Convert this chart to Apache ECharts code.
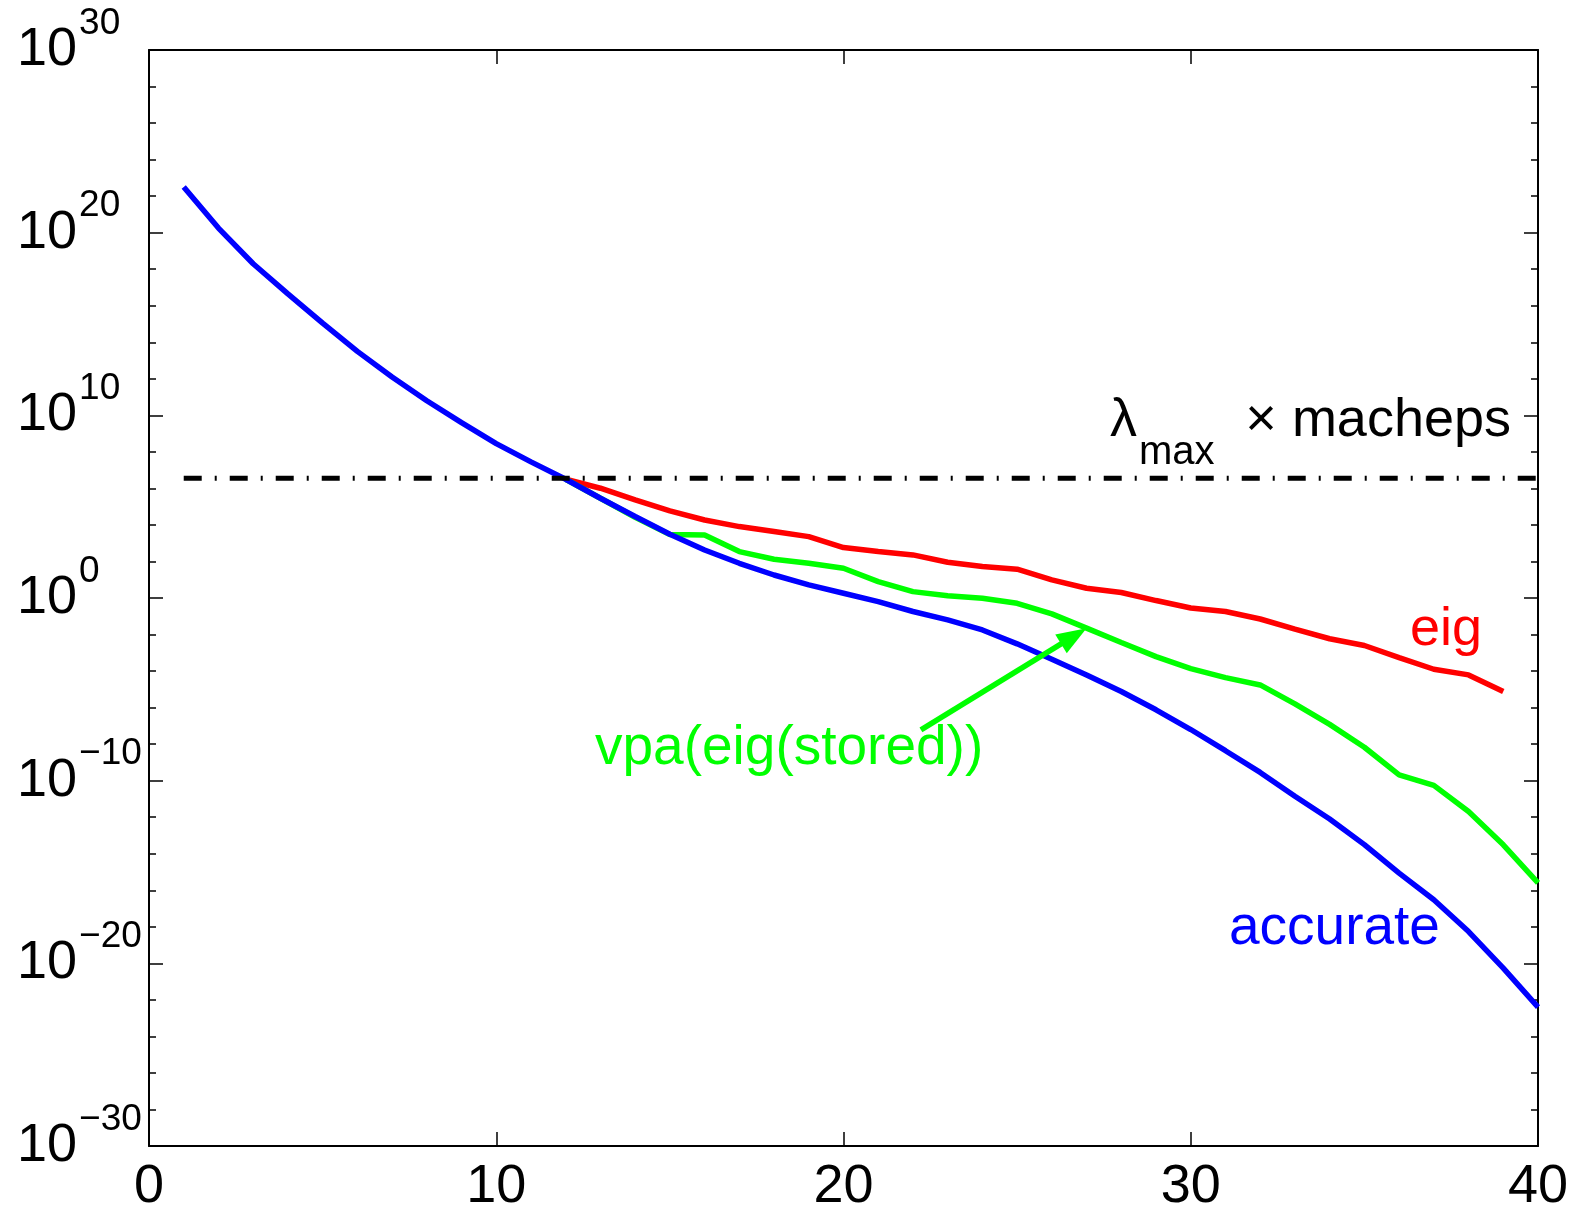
<!DOCTYPE html>
<html>
<head>
<meta charset="utf-8">
<script src="https://cdn.jsdelivr.net/npm/echarts@6.0.0/dist/echarts.min.js"></script>
<style>
  html, body {margin: 0; padding: 0; background: #fff;}
  #chart {width: 1577px; height: 1215px;}
</style>
</head>
<body>
<div id="chart"></div>
<script>
// exponents (log10), x = 1, 2, ...
const accurate = [
  22.5, 20.25, 18.3, 16.65, 15.05, 13.5, 12.1, 10.8, 9.6, 8.45,
  7.45, 6.5, 5.46, 4.46, 3.49, 2.63, 1.9, 1.26, 0.72, 0.26,
  -0.2, -0.74, -1.2, -1.75, -2.51, -3.35, -4.21, -5.12, -6.12, -7.2,
  -8.36, -9.55, -10.85, -12.1, -13.5, -15.06, -16.52, -18.26, -20.26, -22.4
];
// eig and vpa start where they leave the accurate curve
const splitStart = 12;
const eig = [
  6.5, 6.01, 5.37, 4.77, 4.27, 3.91, 3.64, 3.36, 2.76, 2.54,
  2.36, 1.96, 1.72, 1.575, 0.99, 0.535, 0.3, -0.14, -0.55, -0.74,
  -1.15, -1.7, -2.23, -2.6, -3.26, -3.9, -4.21, -5.12
];
const vpaStored = [
  6.5, 5.46, 4.42, 3.47, 3.45, 2.54, 2.12, 1.9, 1.63, 0.9,
  0.35, 0.12, -0.01, -0.29, -0.87, -1.65, -2.44, -3.21, -3.87, -4.36,
  -4.76, -5.8, -6.92, -8.17, -9.68, -10.26, -11.69, -13.51, -15.6
];
const machepsLevel = 6.55;
const machepsRange = [1, 40];
const arrowFrom = [22.23, -7.22];
const arrowTo = [27, -1.65];
const xTicks = [0, 40, 10];      // min, max, step
const yTicks = [-30, 30, 10];    // exponents

const FONT = '"Liberation Sans", Arial, Helvetica, sans-serif';
const LW = 5.5;

const toPairs = (arr, start) => arr.map((v, i) => [start + i, v]);

const expLabel = v => {
  const e = v < 0 ? '\u2212' + (-v) : String(v);
  return '{b|10}{s|' + e + '}';
};

const chart = echarts.init(document.getElementById('chart'), null, {renderer: 'canvas'});

const axisLine = {show: true, onZero: false, lineStyle: {color: '#000', width: 2}};
const tick = {show: true, inside: true, length: 14, lineStyle: {color: '#000', width: 1.5}};
const minor = {show: true, splitNumber: 5, length: 7, lineStyle: {color: '#000', width: 1.5}};

chart.setOption({
  animation: false,
  backgroundColor: '#fff',
  grid: {left: 149, top: 50, right: 39, bottom: 69, containLabel: false},
  xAxis: [{
    type: 'value',
    position: 'bottom',
    min: xTicks[0], max: xTicks[1], interval: xTicks[2],
    axisLine: axisLine,
    axisTick: tick,
    axisLabel: {fontFamily: FONT, fontSize: 54, color: '#000', margin: 14},
    splitLine: {show: false}
  }, {
    type: 'value',
    position: 'top',
    min: xTicks[0], max: xTicks[1], interval: xTicks[2],
    axisLine: axisLine,
    axisTick: tick,
    axisLabel: {show: false},
    splitLine: {show: false}
  }],
  yAxis: [{
    type: 'value',
    position: 'left',
    min: yTicks[0], max: yTicks[1], interval: yTicks[2],
    axisLine: axisLine,
    axisTick: tick,
    minorTick: minor,
    axisLabel: {
      align: 'left',
      margin: 132,
      formatter: expLabel,
      rich: {
        b: {fontFamily: FONT, fontSize: 54, lineHeight: 90, color: '#000'},
        s: {fontFamily: FONT, fontSize: 37, lineHeight: 37, padding: [0, 0, 53, 2], color: '#000'}
      }
    },
    splitLine: {show: false}
  }, {
    type: 'value',
    position: 'right',
    min: yTicks[0], max: yTicks[1], interval: yTicks[2],
    axisLine: axisLine,
    axisTick: tick,
    minorTick: minor,
    axisLabel: {show: false},
    splitLine: {show: false}
  }],
  series: [{
    name: 'eig',
    type: 'line',
    data: toPairs(eig, splitStart),
    showSymbol: false,
    lineStyle: {color: '#ff0000', width: LW},
    z: 2
  }, {
    name: 'vpa(eig(stored))',
    type: 'line',
    data: toPairs(vpaStored, splitStart),
    showSymbol: false,
    lineStyle: {color: '#00ff00', width: LW},
    z: 3
  }, {
    name: 'accurate',
    type: 'line',
    data: toPairs(accurate, 1),
    showSymbol: false,
    lineStyle: {color: '#0000ff', width: LW},
    z: 4
  }, {
    name: 'macheps',
    type: 'line',
    data: machepsRange.map(x => [x, machepsLevel]),
    showSymbol: false,
    lineStyle: {color: '#000', width: 5, type: [18, 13, 2, 13], cap: 'butt'},
    z: 5
  }]
});

// arrow from the label to the vpa curve, placed through the axes' scales
const p0 = chart.convertToPixel({gridIndex: 0}, arrowFrom);
const p1 = chart.convertToPixel({gridIndex: 0}, arrowTo);
const dx = p1[0] - p0[0], dy = p1[1] - p0[1];
const len = Math.sqrt(dx * dx + dy * dy);
const ux = dx / len, uy = dy / len;
const headLen = 30, headHalf = 11;
const bx = p1[0] - ux * headLen, by = p1[1] - uy * headLen;

chart.setOption({
  graphic: [
    {type: 'line', z: 10,
      shape: {x1: p0[0], y1: p0[1], x2: bx + ux * 2, y2: by + uy * 2},
      style: {stroke: '#00ff00', lineWidth: LW}},
    {type: 'polygon', z: 10,
      shape: {points: [[p1[0], p1[1]], [bx - uy * headHalf, by + ux * headHalf], [bx + uy * headHalf, by - ux * headHalf]]},
      style: {fill: '#00ff00'}},
    {type: 'text', x: 1110, y: 421, z: 10,
      style: {text: '\u03bb', font: '54px ' + FONT, fill: '#000', textAlign: 'left', textVerticalAlign: 'middle'}},
    {type: 'text', x: 1139, y: 453, z: 10,
      style: {text: 'max', font: '40px ' + FONT, fill: '#000', textAlign: 'left', textVerticalAlign: 'middle'}},
    {type: 'text', x: 1511, y: 421, z: 10,
      style: {text: '\u00d7 macheps', font: '54px ' + FONT, fill: '#000', textAlign: 'right', textVerticalAlign: 'middle'}},
    {type: 'text', x: 1410, y: 630, z: 10,
      style: {text: 'eig', font: '54px ' + FONT, fill: '#ff0000', textAlign: 'left', textVerticalAlign: 'middle'}},
    {type: 'text', x: 1229, y: 929, z: 10,
      style: {text: 'accurate', font: '55px ' + FONT, fill: '#0000ff', textAlign: 'left', textVerticalAlign: 'middle'}},
    {type: 'text', x: 595, y: 749, z: 10,
      style: {text: 'vpa(eig(stored))', font: '55px ' + FONT, fill: '#00ff00', textAlign: 'left', textVerticalAlign: 'middle'}}
  ]
});
</script>
</body>
</html>
